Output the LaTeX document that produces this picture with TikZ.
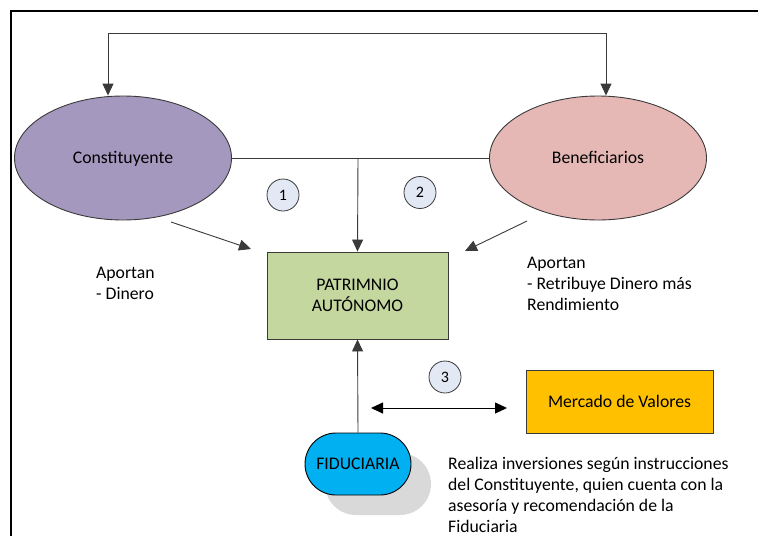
\documentclass[tikz,border=0pt]{standalone}
\usepackage{fontspec}
\setmainfont{Carlito}
\usetikzlibrary{arrows.meta,shapes.geometric,shapes.misc}
\definecolor{purp}{HTML}{A598BF}
\definecolor{pinkb}{HTML}{E6B8B5}
\definecolor{greenb}{HTML}{C4D79E}
\definecolor{orangeb}{HTML}{FFC000}
\definecolor{blueb}{HTML}{00B0F0}
\definecolor{circf}{HTML}{E3E9F4}
\definecolor{shad}{HTML}{D9D9D9}
\definecolor{edge}{HTML}{3A3A3A}
\tikzset{
  arr/.style={draw=edge, line width=0.9pt, -{Triangle[length=12pt,width=11pt]}},
  dblarr/.style={draw=black, line width=0.9pt, {Triangle[length=12pt,width=11pt]}-{Triangle[length=12pt,width=11pt]}},
  plain/.style={draw=edge, line width=0.9pt},
  ell/.style={ellipse, draw=edge, line width=0.9pt, minimum width=217pt, minimum height=124pt, inner sep=0pt, text height=11.4pt, text depth=0pt, font=\fontsize{17.7}{21}\selectfont},
  box/.style={rectangle, draw=edge, line width=0.9pt, inner sep=0pt, align=center, font=\fontsize{17.7}{21.5}\selectfont},
  num/.style={circle, draw=edge, fill=circf, line width=0.8pt, minimum size=32pt, inner sep=0pt, font=\fontsize{16}{18}\selectfont},
  txt/.style={anchor=north west, align=left, inner sep=0pt, font=\fontsize{17.7}{21}\selectfont}
}
\begin{document}
\begin{tikzpicture}[x=1pt,y=-1pt]
\useasboundingbox (0,0) rectangle (758,536);
% outer frame
\draw[line width=2.6pt] (11,536) -- (11,11) -- (758,11);
% nodes
\node[ell, fill=purp] (con) at (123,158) {Constituyente};
\node[ell, fill=pinkb] (ben) at (598,158) {Beneficiarios};
\node[box, fill=greenb, minimum width=181pt, minimum height=87pt] (pat) at (357.5,295.5) {PATRIMNIO\\AUTÓNOMO};
\node[box, fill=orangeb, minimum width=187pt, minimum height=63pt, text height=11.4pt, text depth=0pt] (mer) at (619.5,401.5) {Mercado de Valores};
\node[rounded rectangle, fill=shad, minimum width=106pt, minimum height=62pt, inner sep=0pt] (sh) at (378,484) {};
\node[rounded rectangle, draw=black, line width=0.9pt, fill=blueb, minimum width=106pt, minimum height=62pt, inner sep=0pt, text height=11.4pt, text depth=0pt, font=\fontsize{17.7}{21}\selectfont] (fid) at (358,464) {FIDUCIARIA};
\node[num] (n1) at (283,195) {1};
\node[num] (n2) at (420,192.5) {2};
\node[num] (n3) at (445,377) {3};
% texts
\node[txt] (t1) at (96,266.6) {Aportan\\- Dinero};
\node[txt] (t2) at (527,256.6) {Aportan\\- Retribuye Dinero más\\Rendimiento};
\node[txt] (t3) at (448,456.7) {Realiza inversiones según instrucciones\\del Constituyente, quien cuenta con la\\asesoría y recomendación de la\\Fiduciaria};
% coordinates
\coordinate (tl) at (108,33);
\coordinate (tr) at (606,33);
\coordinate (mid) at (358,158);
\coordinate (a1s) at (171,222);
\coordinate (a1e) at (251,249);
\coordinate (a2s) at (527,221);
\coordinate (a2e) at (465,251);
\coordinate (d1) at (371,408);
\coordinate (d2) at (507,408);
% connectors
\draw[plain] (tl) -- (tr);
\draw[arr] (tl) -- (tl |- con.north);
\draw[arr] (tr) -- (tr |- ben.north);
\draw[plain] (con.east) -- (ben.west);
\draw[arr] (mid) -- (pat.north);
\draw[arr] (a1s) -- (a1e);
\draw[arr] (a2s) -- (a2e);
\draw[arr] (fid.north) -- (pat.south);
\draw[dblarr] (d1) -- (d2);
\end{tikzpicture}
\end{document}
